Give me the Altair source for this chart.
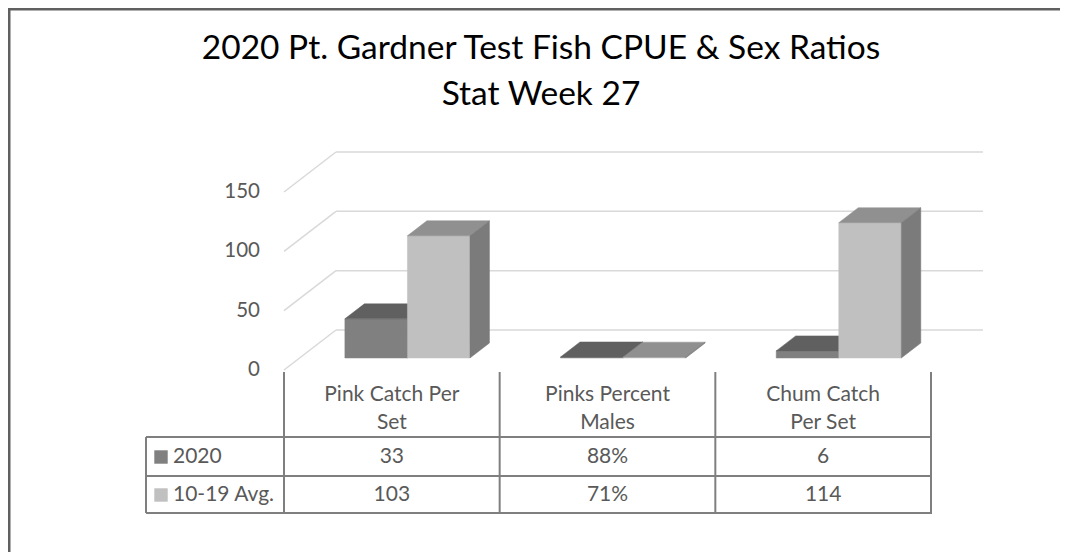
import altair as alt
import pandas as pd

# ---------------- data ----------------
categories = ["Pink Catch Per Set", "Pinks Percent Males", "Chum Catch Per Set"]
header_line1 = ["Pink Catch Per", "Pinks Percent", "Chum Catch"]
header_line2 = ["Set", "Males", "Per Set"]
series = ["2020", "10-19 Avg."]
values_2020 = [33, 0.88, 6]
values_avg = [103, 0.71, 114]
labels_2020 = ["33", "88%", "6"]
labels_avg = ["103", "71%", "114"]
y_ticks = [0, 50, 100, 150]
title_lines = ["2020 Pt. Gardner Test Fish CPUE & Sex Ratios", "Stat Week 27"]

# ---------------- style ----------------
FONT = "Lato"
TEXT = "#595959"
GRID = "#d9d9d9"
LINE = "#7f7f7f"
front_colors = {"2020": "#808080", "10-19 Avg.": "#c0c0c0"}
top_colors = {"2020": "#606060", "10-19 Avg.": "#909090"}
side_colors = {"2020": "#555555", "10-19 Avg.": "#7b7b7b"}
SX = 0.241   # horizontal shift of full floor depth (category units)
SY = 33.7    # vertical shift of full floor depth (value units)
Z0, Z1 = 0.3, 0.675   # bar depth range
BW = 0.29             # bar width (category units)

xs = alt.Scale(domain=[0, 3], range=[276, 923])
ys = alt.Scale(domain=[0, 150], range=[362, 184])

series_values = {"2020": values_2020, "10-19 Avg.": values_avg}

front_rows, top_rows, side_rows = [], [], []
for k, s in enumerate(series):
    for i, v in enumerate(series_values[s]):
        xl = i + 0.5 + (k - 1) * BW
        xr = xl + BW
        fid = f"{s}-{i}"
        front_rows.append(dict(s=s, x=xl + SX * Z0, x2=xr + SX * Z0,
                               y=SY * Z0, y2=v + SY * Z0, col=front_colors[s]))
        for z in (Z0, Z1):
            top_rows.append(dict(s=s, fid=fid, y=v + SY * z,
                                 x=xl + SX * z, x2=xr + SX * z, col=top_colors[s]))
            side_rows.append(dict(s=s, fid=fid, x=xr + SX * z,
                                  y=SY * z, y2=v + SY * z, col=side_colors[s]))
front_df = pd.DataFrame(front_rows)
top_df = pd.DataFrame(top_rows)
side_df = pd.DataFrame(side_rows)

grid_df = pd.DataFrame({"v": y_ticks})
grid_df["x0"] = 0.0
grid_df["x1"] = SX
grid_df["x3"] = 3 + SX
grid_df["vb"] = grid_df["v"] + SY

X = lambda f: alt.X(f, scale=xs, axis=None)
Y = lambda f: alt.Y(f, scale=ys, axis=None)

grid_diag = alt.Chart(grid_df).mark_rule(color=GRID, strokeWidth=1.5).encode(
    x=X("x0:Q"), x2="x1:Q", y=Y("v:Q"), y2="vb:Q")
grid_h = alt.Chart(grid_df).mark_rule(color=GRID, strokeWidth=1.5).encode(
    x=X("x1:Q"), x2="x3:Q", y=Y("vb:Q"))
ylabels = alt.Chart(grid_df).mark_text(
    align="right", baseline="middle", font=FONT, fontSize=20.5, color=TEXT
).encode(x=alt.value(252), y=Y("v:Q"), text="v:Q")

bar_layers = []
for s in series:
    bar_layers.append(
        alt.Chart(front_df[front_df.s == s]).mark_rect(strokeWidth=0.5).encode(
            x=X("x:Q"), x2="x2:Q", y=Y("y:Q"), y2="y2:Q",
            color=alt.Color("col:N", scale=None), stroke=alt.Stroke("col:N", scale=None)))
    bar_layers.append(
        alt.Chart(top_df[top_df.s == s]).mark_area(orient="horizontal", strokeWidth=0.5).encode(
            y=Y("y:Q"), x=alt.X("x:Q", scale=xs, axis=None, stack=None), x2="x2:Q",
            detail="fid:N", color=alt.Color("col:N", scale=None),
            stroke=alt.Stroke("col:N", scale=None)))
    bar_layers.append(
        alt.Chart(side_df[side_df.s == s]).mark_area(orient="vertical", strokeWidth=0.5).encode(
            x=X("x:Q"), y=alt.Y("y:Q", scale=ys, axis=None, stack=None), y2="y2:Q",
            detail="fid:N", color=alt.Color("col:N", scale=None),
            stroke=alt.Stroke("col:N", scale=None)))

# ---------------- data table ----------------
cat_df = pd.DataFrame({
    "cat": categories, "c": [0.5, 1.5, 2.5],
    "h1": header_line1, "h2": header_line2,
    "l2020": labels_2020, "lavg": labels_avg,
})
bound_df = pd.DataFrame({"b": [0, 1, 2, 3]})

tbl_vert = alt.Chart(bound_df).mark_rule(color=LINE, strokeWidth=2).encode(
    x=X("b:Q"), y=alt.value(364), y2=alt.value(505))
one = pd.DataFrame({"a": [0]})
tbl_left = alt.Chart(one).mark_rule(color=LINE, strokeWidth=2).encode(
    x=alt.value(138), y=alt.value(429), y2=alt.value(505))
tbl_h = [
    alt.Chart(one).mark_rule(color=LINE, strokeWidth=2).encode(
        x=alt.value(138), x2=alt.value(924), y=alt.value(yy))
    for yy in (429, 468, 505)
]

def cell_text(field, ypix):
    return alt.Chart(cat_df).mark_text(
        align="center", baseline="middle", font=FONT, fontSize=21, color=TEXT
    ).encode(x=X("c:Q"), y=alt.value(ypix), text=f"{field}:N")

hdr1 = cell_text("h1", 387)
hdr2 = cell_text("h2", 415)
row1 = cell_text("l2020", 449)
row2 = cell_text("lavg", 487)

leg_df = pd.DataFrame({"s": series})
leg_layers = []
for s, ypix in zip(series, (449, 487)):
    d = leg_df[leg_df.s == s]
    leg_layers.append(alt.Chart(d).mark_square(size=180, opacity=1, color=front_colors[s]).encode(
        x=alt.value(153), y=alt.value(ypix)))
    leg_layers.append(alt.Chart(d).mark_text(
        align="left", baseline="middle", font=FONT, fontSize=21, color=TEXT
    ).encode(x=alt.value(165), y=alt.value(ypix), text="s:N"))

# ---------------- title ----------------
title_layers = []
for t, ypix in zip(title_lines, (41, 87)):
    title_layers.append(alt.Chart(pd.DataFrame({"t": [t]})).mark_text(
        align="center", baseline="middle", font=FONT, fontSize=33.5, color="#000000"
    ).encode(x=alt.value(533), y=alt.value(ypix), text="t:N"))

# ---------------- border ----------------
border = [
    alt.Chart(one).mark_rule(color="#606060", strokeWidth=3).encode(
        x=alt.value(1), y=alt.value(0), y2=alt.value(544)),
    alt.Chart(one).mark_rule(color="#606060", strokeWidth=3).encode(
        x=alt.value(0), x2=alt.value(1052), y=alt.value(1)),
]

chart = alt.layer(
    grid_diag, grid_h, ylabels, *bar_layers,
    tbl_vert, tbl_left, *tbl_h, hdr1, hdr2, row1, row2, *leg_layers,
    *title_layers, *border
).properties(
    width=1052, height=544, padding=0, autosize="none", background="white"
).configure_view(stroke=None)

chart.save("out.html", embed_options={"renderer": "svg", "actions": False})
